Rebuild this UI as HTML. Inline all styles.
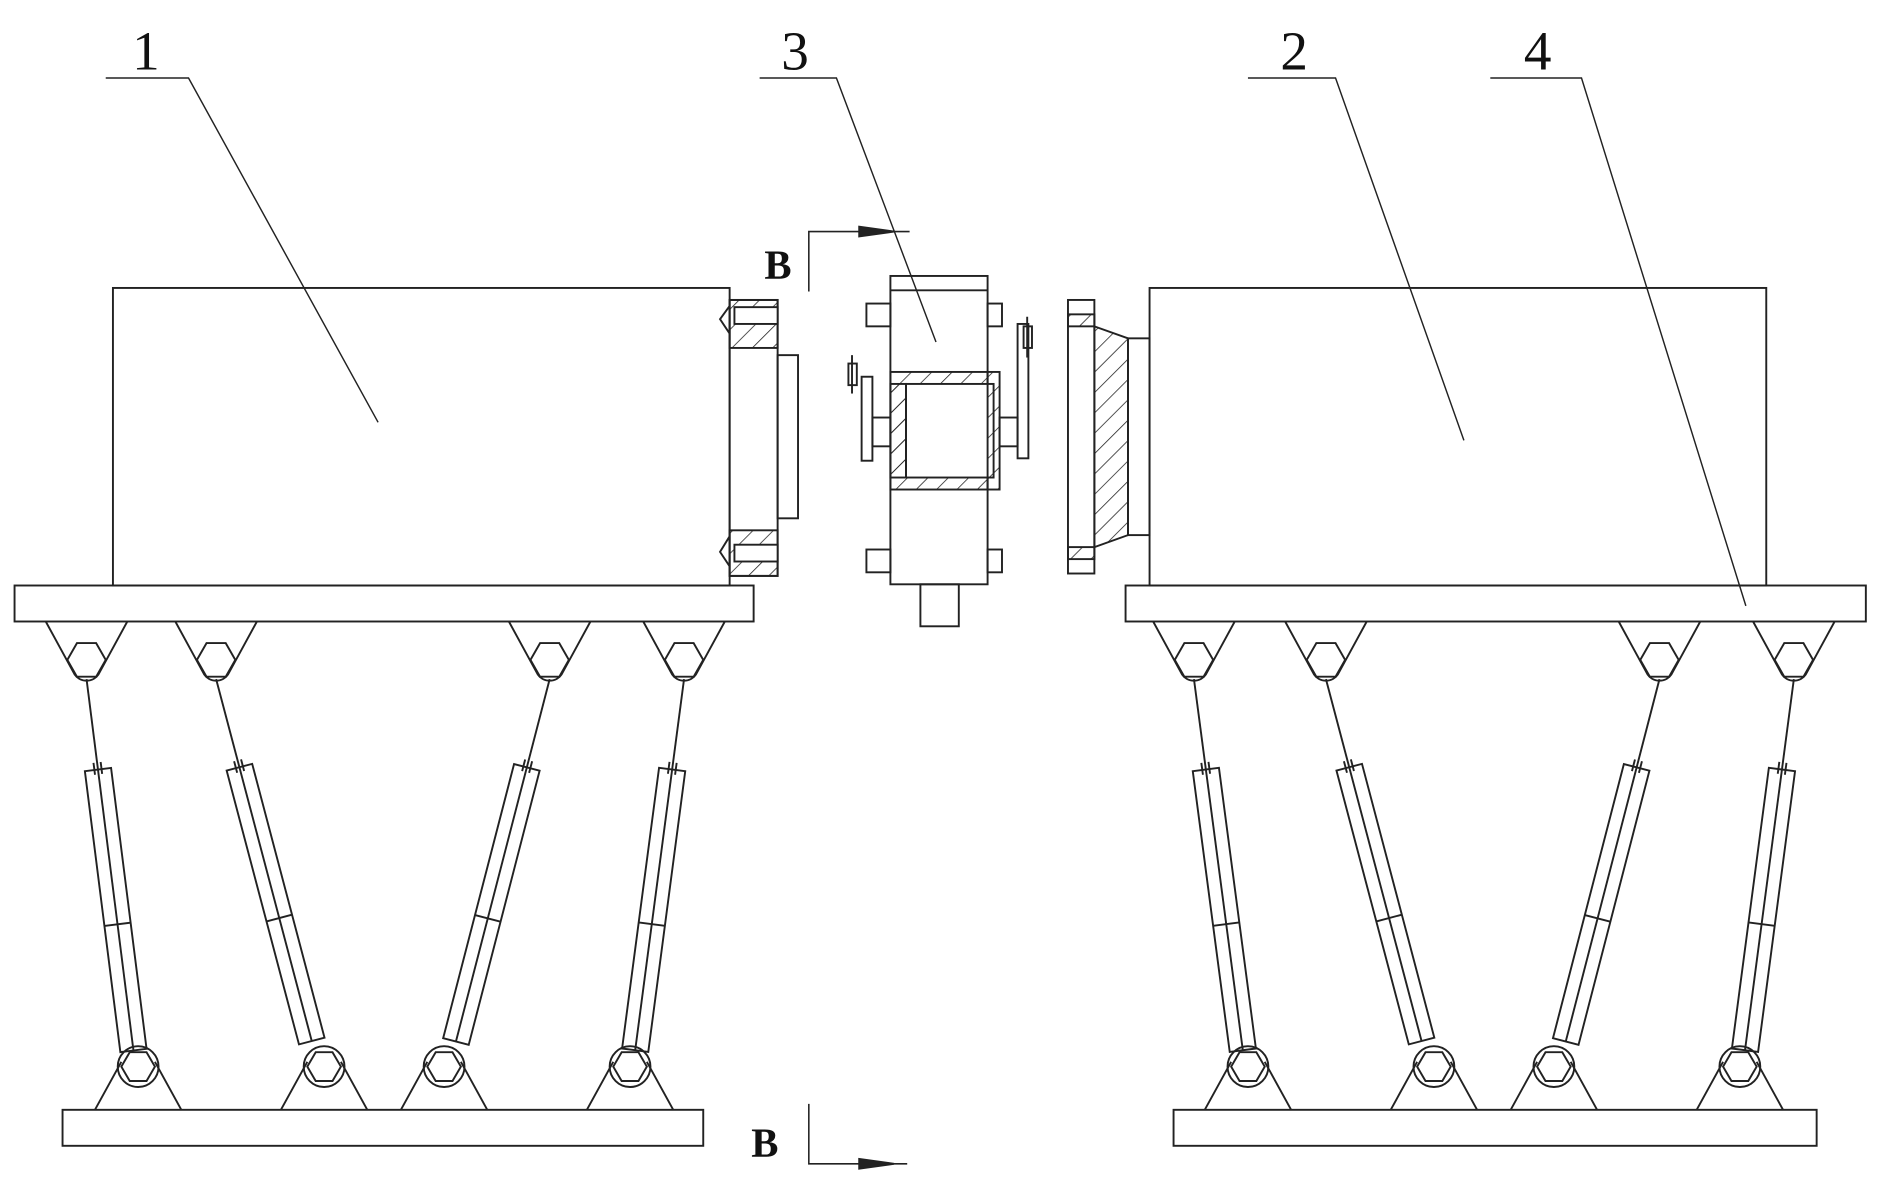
<!DOCTYPE html>
<html><head><style>html,body{margin:0;padding:0;background:#fff}svg{display:block}</style></head>
<body>
<svg width="1878" height="1189" viewBox="0 0 1565 991" xmlns="http://www.w3.org/2000/svg" fill="none" stroke="#222" stroke-width="1.6" font-family="Liberation Serif, serif">
<defs>
<pattern id="h" width="12" height="12" patternUnits="userSpaceOnUse" patternTransform="rotate(45)"><line x1="0" y1="0" x2="0" y2="12" stroke="#222" stroke-width="1.3"/></pattern>
<g id="leg">
<line x1="0" y1="0" x2="0" y2="76"/>
<line x1="-3" y1="70" x2="-3" y2="80"/><line x1="3" y1="70" x2="3" y2="80"/>
<rect x="-11" y="76" width="22" height="236"/>
<line x1="0" y1="76" x2="0" y2="312"/>
<line x1="-11" y1="206" x2="11" y2="206"/>
</g>
<g id="tj">
<path d="M-34,0 L-10,44 A12,12 0 0 0 10,44 L34,0"/>
<polygon points="-16,32 -8,18 8,18 16,32 8,46 -8,46"/>
</g>
<g id="bj">
<path d="M-36,36 L-14,-4 M14,-4 L36,36"/>
<circle cx="0" cy="0" r="17"/>
<polygon points="-14,0 -7,-12 7,-12 14,0 7,12 -7,12"/>
</g>
</defs>

<rect x="94" y="240" width="514" height="248"/>
<rect x="12" y="488" width="616" height="30"/>
<rect x="52" y="925" width="534" height="30"/>
<rect x="608" y="250" width="40" height="230"/>
<rect x="648" y="296" width="17" height="136"/>
<rect x="608" y="250" width="40" height="40" fill="url(#h)"/>
<rect x="612" y="256" width="36" height="14" fill="#fff"/>
<path d="M608,255 L600,266 L608,278" />
<rect x="608" y="442" width="40" height="38" fill="url(#h)"/>
<rect x="612" y="454" width="36" height="14" fill="#fff"/>
<path d="M608,447 L600,460 L608,472"/>

<use href="#tj" x="72" y="518"/><use href="#tj" x="180" y="518"/><use href="#tj" x="458" y="518"/><use href="#tj" x="570" y="518"/>
<use href="#bj" x="115" y="889"/><use href="#bj" x="270" y="889"/><use href="#bj" x="370" y="889"/><use href="#bj" x="525" y="889"/>
<use href="#leg" transform="translate(72,566) rotate(-7.2)"/>
<use href="#leg" transform="translate(180,566) rotate(-14.8)"/>
<use href="#leg" transform="translate(458,566) rotate(14.5)"/>
<use href="#leg" transform="translate(570,566) rotate(7.5)"/>

<rect x="742" y="230" width="81" height="257"/>
<line x1="742" y1="242" x2="823" y2="242"/>
<rect x="767" y="487" width="32" height="35"/>
<rect x="742" y="310" width="81" height="98" fill="url(#h)"/>
<rect x="755" y="320" width="73" height="78" fill="#fff"/>
<rect x="742" y="320" width="13" height="78" fill="url(#h)"/>
<rect x="823" y="310" width="10" height="98" fill="url(#h)"/>
<rect x="722" y="253" width="20" height="19"/><rect x="722" y="458" width="20" height="19"/>
<rect x="823" y="253" width="12" height="19"/><rect x="823" y="458" width="12" height="19"/>
<rect x="718" y="314" width="9" height="70"/><rect x="727" y="348" width="15" height="24"/>
<rect x="707" y="303" width="7" height="18"/><line x1="710" y1="296" x2="710" y2="328"/>
<rect x="848" y="270" width="9" height="112"/><rect x="833" y="348" width="15" height="24"/>
<rect x="853" y="272" width="7" height="18"/><line x1="856" y1="264" x2="856" y2="298"/>

<rect x="958" y="240" width="514" height="248"/>
<rect x="938" y="488" width="617" height="30"/>
<rect x="978" y="925" width="536" height="30"/>
<rect x="890" y="250" width="22" height="228"/>
<rect x="890" y="262" width="22" height="10" fill="url(#h)"/>
<rect x="890" y="456" width="22" height="10" fill="url(#h)"/>
<path d="M912,272 L940,282 L940,446 L912,456 Z" fill="url(#h)"/>
<rect x="940" y="282" width="18" height="164"/>

<use href="#tj" x="995" y="518"/><use href="#tj" x="1105" y="518"/><use href="#tj" x="1383" y="518"/><use href="#tj" x="1495" y="518"/>
<use href="#bj" x="1040" y="889"/><use href="#bj" x="1195" y="889"/><use href="#bj" x="1295" y="889"/><use href="#bj" x="1450" y="889"/>
<use href="#leg" transform="translate(995,566) rotate(-7.5)"/>
<use href="#leg" transform="translate(1105,566) rotate(-14.8)"/>
<use href="#leg" transform="translate(1383,566) rotate(14.5)"/>
<use href="#leg" transform="translate(1495,566) rotate(7.5)"/>

<polyline points="88,65 157,65 315,352" stroke-width="1.2"/>
<polyline points="633,65 697,65 780,285" stroke-width="1.2"/>
<polyline points="1040,65 1113,65 1220,367" stroke-width="1.2"/>
<polyline points="1242,65 1318,65 1455,505" stroke-width="1.2"/>

<polyline points="674,243 674,193 758,193" stroke-width="1.3"/>
<path d="M716,189 L745,193 L716,197 Z" fill="#222"/>
<polyline points="674,920 674,970 756,970" stroke-width="1.3"/>
<path d="M716,966 L745,970 L716,974 Z" fill="#222"/>

<g fill="#111" stroke="none" font-size="46">
<text x="110" y="58">1</text>
<text x="651" y="58">3</text>
<text x="1067" y="58">2</text>
<text x="1270" y="58">4</text>
</g>
<g fill="#111" stroke="none" font-size="34" font-weight="bold">
<text x="637" y="232">B</text>
<text x="626" y="964">B</text>
</g>
</svg>
</body></html>
